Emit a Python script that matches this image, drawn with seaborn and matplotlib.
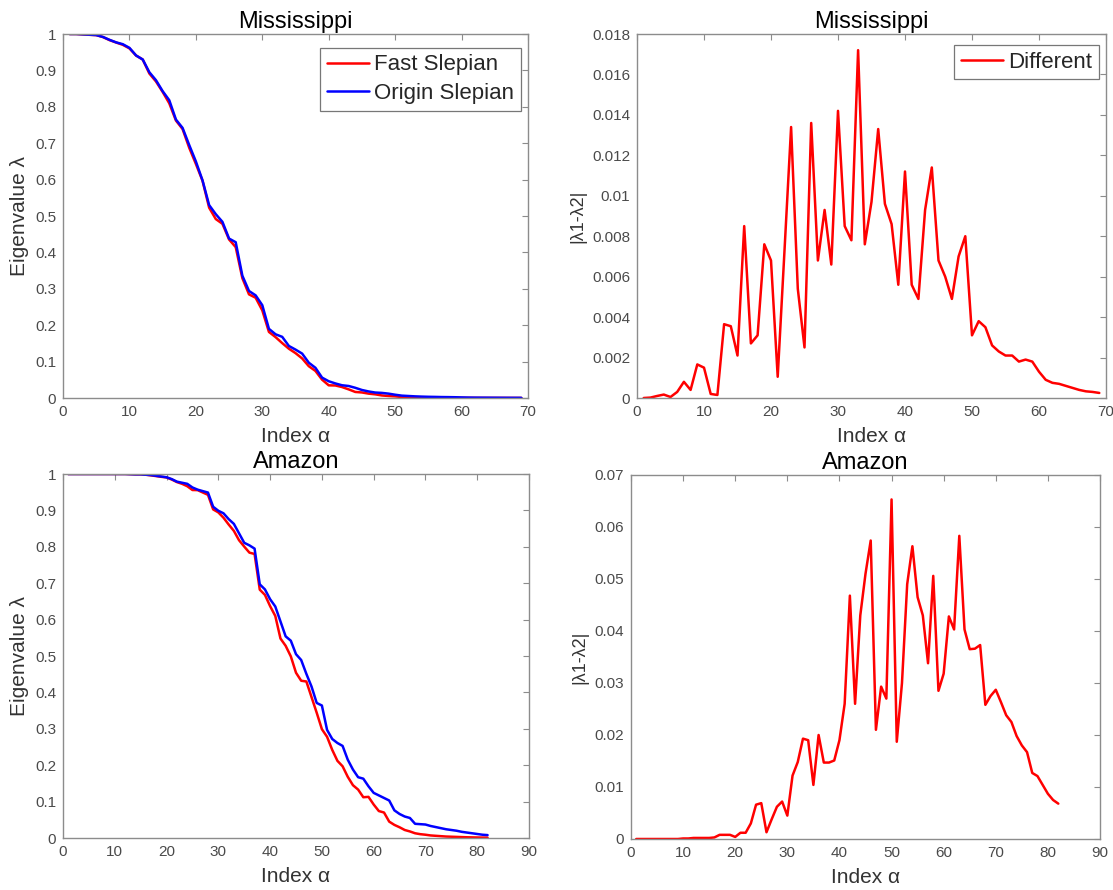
import numpy as np
import pandas as pd
import matplotlib
matplotlib.use("Agg")
import matplotlib.pyplot as plt
from matplotlib.lines import Line2D
import seaborn as sns

# ---------------- data ----------------
miss_index = list(range(1, 70))
miss_origin = [1.000, 1.000, 0.999, 0.998, 0.997, 0.992, 0.984, 0.977, 0.972, 0.962,
               0.941, 0.930, 0.895, 0.873, 0.843, 0.818, 0.765, 0.742, 0.695, 0.650,
               0.598, 0.530, 0.505, 0.484, 0.438, 0.428, 0.336, 0.294, 0.282, 0.255,
               0.190, 0.175, 0.168, 0.143, 0.133, 0.122, 0.097, 0.083, 0.056, 0.046,
               0.040, 0.035, 0.033, 0.028, 0.022, 0.018, 0.015, 0.014, 0.012, 0.009,
               0.0065, 0.0055, 0.0045, 0.0038, 0.0033, 0.0030, 0.0026, 0.0024, 0.0021, 0.0016,
               0.0012, 0.0010, 0.0009, 0.0008, 0.0007, 0.0006, 0.0005, 0.00045, 0.0004]
miss_fast = [1.000, 1.000, 0.9989, 0.9978, 0.9970, 0.9917, 0.9832, 0.9766, 0.9703, 0.9605,
             0.9408, 0.9299, 0.8914, 0.8695, 0.8409, 0.8095, 0.7623, 0.7389, 0.6874, 0.6432,
             0.5970, 0.5228, 0.4916, 0.4786, 0.4355, 0.4144, 0.3292, 0.2847, 0.2754, 0.2408,
             0.1815, 0.1672, 0.1508, 0.1354, 0.1233, 0.1087, 0.0874, 0.0744, 0.0504, 0.0348,
             0.0344, 0.0301, 0.0237, 0.0166, 0.0152, 0.0120, 0.0101, 0.0070, 0.0055, 0.0045,
             0.0027, 0.0020, 0.0019, 0.0015, 0.0012, 0.0009, 0.0008, 0.0005, 0.0003, 0.0003,
             0.0003, 0.00025, 0.0002, 0.0002, 0.0002, 0.0002, 0.00017, 0.00015, 0.00015]
miss_diff = [0.0, 0.00002, 0.0001, 0.00017, 0.00005, 0.0003, 0.0008, 0.0004, 0.00166, 0.0015,
             0.0002, 0.00015, 0.00365, 0.00355, 0.0021, 0.0085, 0.0027, 0.0031, 0.0076, 0.0068,
             0.00105, 0.0072, 0.0134, 0.0054, 0.0025, 0.0136, 0.0068, 0.0093, 0.0066, 0.0142,
             0.0085, 0.0078, 0.0172, 0.0076, 0.0097, 0.0133, 0.0096, 0.0086, 0.0056, 0.0112,
             0.0056, 0.0049, 0.0093, 0.0114, 0.0068, 0.0060, 0.0049, 0.0070, 0.0080, 0.0031,
             0.0038, 0.0035, 0.0026, 0.0023, 0.0021, 0.0021, 0.0018, 0.0019, 0.0018, 0.0013,
             0.0009, 0.00075, 0.0007, 0.0006, 0.0005, 0.0004, 0.00033, 0.0003, 0.00025]

amaz_index = list(range(1, 83))
amaz_origin = [1.000, 1.000, 1.000, 1.000, 1.000, 1.000, 1.000, 1.000, 1.000, 1.000,
               1.000, 1.000, 0.9995, 0.999, 0.999, 0.998, 0.997, 0.995, 0.993, 0.991,
               0.986, 0.979, 0.976, 0.973, 0.963, 0.957, 0.953, 0.949, 0.910, 0.899,
               0.892, 0.876, 0.863, 0.837, 0.811, 0.804, 0.795, 0.697, 0.683, 0.656,
               0.636, 0.595, 0.554, 0.542, 0.505, 0.489, 0.451, 0.416, 0.371, 0.364,
               0.297, 0.272, 0.261, 0.253, 0.215, 0.188, 0.167, 0.163, 0.142, 0.124,
               0.117, 0.110, 0.103, 0.076, 0.066, 0.059, 0.055, 0.039, 0.038, 0.037,
               0.033, 0.030, 0.027, 0.024, 0.022, 0.020, 0.017, 0.015, 0.013, 0.011,
               0.009, 0.008]
amaz_fast = [1.000, 1.000, 1.000, 1.000, 1.000, 1.000, 1.000, 1.000, 1.000, 1.000,
             1.000, 1.000, 0.9995, 0.999, 0.999, 0.998, 0.9962, 0.9942, 0.9922, 0.9906,
             0.9848, 0.9778, 0.973, 0.9664, 0.956, 0.9557, 0.9492, 0.9428, 0.9027, 0.8945,
             0.8798, 0.8612, 0.8437, 0.818, 0.8006, 0.784, 0.7803, 0.6823, 0.6679, 0.637,
             0.610, 0.548, 0.528, 0.499, 0.454, 0.432, 0.430, 0.387, 0.344, 0.299,
             0.278, 0.242, 0.212, 0.197, 0.168, 0.145, 0.133, 0.112, 0.113, 0.092,
             0.074, 0.070, 0.045, 0.036, 0.0295, 0.022, 0.018, 0.013, 0.0105, 0.009,
             0.007, 0.006, 0.005, 0.004, 0.0035, 0.003, 0.0025, 0.002, 0.0017, 0.0014,
             0.0012, 0.001]
amaz_diff = [0.0, 0.0, 0.0, 0.0, 0.0, 0.0, 0.0, 0.0, 0.0, 0.0001,
             0.0001, 0.0002, 0.0002, 0.0002, 0.0002, 0.0003, 0.0008, 0.0008, 0.0008, 0.0004,
             0.0012, 0.0012, 0.0030, 0.0066, 0.0069, 0.0013, 0.0038, 0.0062, 0.0072, 0.0045,
             0.0122, 0.0148, 0.0193, 0.0190, 0.0104, 0.0200, 0.0147, 0.0147, 0.0151, 0.0190,
             0.0260, 0.0468, 0.0260, 0.0430, 0.0510, 0.0574, 0.0210, 0.0293, 0.0270, 0.0653,
             0.0187, 0.0300, 0.0490, 0.0563, 0.0465, 0.0430, 0.0338, 0.0506, 0.0285, 0.0318,
             0.0428, 0.0403, 0.0583, 0.0403, 0.0365, 0.0366, 0.0373, 0.0258, 0.0275, 0.0287,
             0.0263, 0.0238, 0.0225, 0.0198, 0.0180, 0.0167, 0.0127, 0.0121, 0.0104, 0.0087,
             0.0075, 0.0068]

titles = ["Mississippi", "Mississippi", "Amazon", "Amazon"]
xlabel = "Index α"
ylabel_eig = "Eigenvalue λ"
ylabel_diff = "|λ1-λ2|"
legend_fast = "Fast Slepian"
legend_origin = "Origin Slepian"
legend_diff = "Different"
eig_tick_labels = ["0", "0.1", "0.2", "0.3", "0.4", "0.5", "0.6", "0.7", "0.8", "0.9", "1"]
miss_diff_tick_labels = ["0", "0.002", "0.004", "0.006", "0.008", "0.01", "0.012",
                         "0.014", "0.016", "0.018"]
amaz_diff_tick_labels = ["0", "0.01", "0.02", "0.03", "0.04", "0.05", "0.06", "0.07"]

# ---------------- style ----------------
sns.set_theme(style="white")
plt.rcParams["font.family"] = ["Liberation Sans", "DejaVu Sans"]

W, H = 1113, 890
fig = plt.figure(figsize=(W / 100, H / 100), dpi=100)

def add_ax(left, top, right, bottom):
    return fig.add_axes([left / W, 1 - bottom / H, (right - left) / W, (bottom - top) / H])

ax_tl = add_ax(63, 34, 528, 398)
ax_tr = add_ax(637, 34, 1106, 398)
ax_bl = add_ax(63, 474, 529, 838)
ax_br = add_ax(631, 475, 1100, 839)

RED = "#ff0000"
BLUE = "#0000ff"
EDGE = "#8c8c8c"
TICKC = "#4a4a4a"

def style(ax, xmax, ymax, ytl, title, ylabel, ylab_size=15):
    ax.set_xlim(0, xmax)
    ax.set_ylim(0, ymax)
    ax.set_xticks(np.arange(0, xmax + 1, 10))
    ax.set_yticks(np.linspace(0, ymax, len(ytl)))
    ax.set_yticklabels(ytl)
    for s in ax.spines.values():
        s.set_color(EDGE)
        s.set_linewidth(1.0)
        s.set_visible(True)
    ax.tick_params(direction="in", top=True, right=True, length=4, width=0.8,
                   color=EDGE, labelcolor=TICKC, labelsize=11, pad=5)
    ax.set_title(title, fontsize=17, color="black", pad=4)
    ax.set_xlabel(xlabel, fontsize=15, color="#333333", labelpad=6)
    ax.set_ylabel(ylabel, fontsize=ylab_size, color="#333333", labelpad=4)
    ax.grid(False)

def legend(ax, handles, labels, anchor, spacing):
    leg = ax.legend(handles, labels, loc="upper right", fontsize=16, frameon=True,
                    fancybox=False, edgecolor="#555555", handlelength=1.9,
                    handletextpad=0.25, borderpad=0.3, labelspacing=spacing,
                    borderaxespad=0.0, bbox_to_anchor=anchor)
    leg.get_frame().set_linewidth(0.9)

# Top-left
df_tl = pd.DataFrame({
    "x": miss_index * 2,
    "y": miss_fast + miss_origin,
    "s": [legend_fast] * len(miss_index) + [legend_origin] * len(miss_index),
})
sns.lineplot(data=df_tl, x="x", y="y", hue="s", palette=[RED, BLUE], ax=ax_tl,
             linewidth=1.8, legend=False, sort=False)
style(ax_tl, 70, 1, eig_tick_labels, titles[0], ylabel_eig)
legend(ax_tl, [Line2D([], [], color=RED, lw=1.8), Line2D([], [], color=BLUE, lw=1.8)],
       [legend_fast, legend_origin], (0.985, 0.962), 0.35)

# Top-right
sns.lineplot(x=miss_index, y=miss_diff, color=RED, ax=ax_tr, linewidth=1.8, sort=False)
style(ax_tr, 70, 0.018, miss_diff_tick_labels, titles[1], ylabel_diff, 13)
legend(ax_tr, [Line2D([], [], color=RED, lw=1.8)], [legend_diff], (0.985, 0.97), 0.1)

# Bottom-left
df_bl = pd.DataFrame({
    "x": amaz_index * 2,
    "y": amaz_fast + amaz_origin,
    "s": [legend_fast] * len(amaz_index) + [legend_origin] * len(amaz_index),
})
sns.lineplot(data=df_bl, x="x", y="y", hue="s", palette=[RED, BLUE], ax=ax_bl,
             linewidth=1.8, legend=False, sort=False)
style(ax_bl, 90, 1, eig_tick_labels, titles[2], ylabel_eig)

# Bottom-right
sns.lineplot(x=amaz_index, y=amaz_diff, color=RED, ax=ax_br, linewidth=1.8, sort=False)
style(ax_br, 90, 0.07, amaz_diff_tick_labels, titles[3], ylabel_diff, 13)

fig.savefig("out.png", dpi=100, facecolor="white")
